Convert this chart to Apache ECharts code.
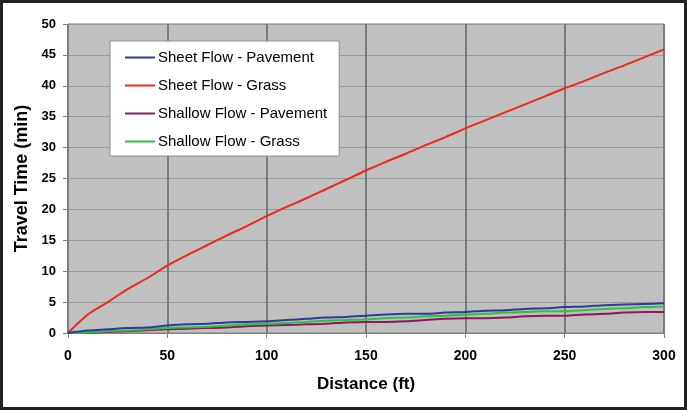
<!DOCTYPE html>
<html>
<head>
<meta charset="utf-8">
<script src="https://cdn.jsdelivr.net/npm/echarts@6/dist/echarts.min.js"></script>
<style>
  html, body { margin: 0; padding: 0; background: #fff; }
  #chart { width: 687px; height: 410px; box-sizing: border-box; border: 3px solid #222; }
</style>
</head>
<body>
<div id="chart"></div>
<script>
// distance (ft)
const distance = [0, 10, 20, 30, 40, 50, 60, 70, 80, 90, 100, 110, 120, 130, 140, 150,
    160, 170, 180, 190, 200, 210, 220, 230, 240, 250, 260, 270, 280, 290, 300];

// travel time (min)
const sheetPavement = [0, 0.4, 0.6, 0.8, 0.9, 1.2, 1.4, 1.5, 1.7, 1.8, 1.9, 2.1, 2.3, 2.5, 2.6, 2.8,
    3.0, 3.1, 3.1, 3.3, 3.4, 3.6, 3.7, 3.9, 4.0, 4.2, 4.3, 4.5, 4.6, 4.7, 4.8];
const sheetGrass = [0, 3.0, 5.0, 7.1, 8.9, 10.9, 12.6, 14.2, 15.8, 17.3, 18.9, 20.4, 21.8, 23.3, 24.8, 26.3,
    27.7, 29.0, 30.4, 31.7, 33.1, 34.4, 35.7, 37.0, 38.3, 39.6, 40.8, 42.1, 43.3, 44.6, 45.9];
const shallowPavement = [0, 0.05, 0.2, 0.3, 0.45, 0.6, 0.7, 0.8, 0.9, 1.1, 1.2, 1.3, 1.4, 1.5, 1.7, 1.8,
    1.8, 1.9, 2.1, 2.3, 2.4, 2.4, 2.5, 2.7, 2.8, 2.8, 3.0, 3.1, 3.3, 3.4, 3.4];
const shallowGrass = [0, 0.1, 0.3, 0.4, 0.6, 0.8, 0.9, 1.0, 1.2, 1.4, 1.5, 1.6, 1.8, 2.0, 2.1, 2.2,
    2.4, 2.5, 2.7, 2.8, 3.0, 3.1, 3.3, 3.4, 3.5, 3.5, 3.7, 3.9, 4.0, 4.2, 4.3];

const seriesNames = ['Sheet Flow - Pavement', 'Sheet Flow - Grass', 'Shallow Flow - Pavement', 'Shallow Flow - Grass'];
const seriesColors = ['#2a3b9c', '#f02818', '#8c1a5a', '#30c040'];
const seriesData = [sheetPavement, sheetGrass, shallowPavement, shallowGrass];

const chart = echarts.init(document.getElementById('chart'));

const option = {
    backgroundColor: '#fff',
    animation: false,
    grid: {
        left: 65, right: 20, top: 21, bottom: 74,
        show: true,
        backgroundColor: '#c0c0c0',
        borderColor: '#808080',
        borderWidth: 1
    },
    legend: {
        left: 107, top: 38,
        orient: 'vertical',
        backgroundColor: '#fff',
        borderColor: '#909090',
        borderWidth: 1,
        padding: [9, 12, 7, 15],
        itemGap: 13,
        itemWidth: 30,
        itemHeight: 16,
        icon: 'path://M0,7 L30,7 L30,9 L0,9 Z',
        textStyle: { fontFamily: 'Liberation Sans', fontSize: 15, color: '#000', padding: [0, 0, 0, -2] },
        data: seriesNames
    },
    xAxis: {
        type: 'value',
        min: 0, max: 300, interval: 50,
        name: 'Distance (ft)',
        nameLocation: 'middle',
        nameGap: 43,
        nameTextStyle: { fontFamily: 'Liberation Sans', fontWeight: 'bold', fontSize: 17, color: '#000' },
        axisLine: { show: true, lineStyle: { color: '#808080', width: 1 } },
        axisTick: { show: true, length: 5, lineStyle: { color: '#808080' } },
        axisLabel: { margin: 16, fontFamily: 'Liberation Sans', fontWeight: 'bold', fontSize: 14, color: '#000' },
        splitLine: { show: true, lineStyle: { color: '#7a7a7a', width: 2 } }
    },
    yAxis: {
        type: 'value',
        min: 0, max: 50, interval: 5,
        name: 'Travel Time (min)',
        nameLocation: 'middle',
        nameGap: 34,
        nameTextStyle: { fontFamily: 'Liberation Sans', fontWeight: 'bold', fontSize: 18, color: '#000' },
        axisLine: { show: true, lineStyle: { color: '#808080', width: 1 } },
        axisTick: { show: true, length: 5, lineStyle: { color: '#808080' } },
        axisLabel: { margin: 12, fontFamily: 'Liberation Sans', fontWeight: 'bold', fontSize: 13, color: '#000' },
        splitLine: { show: true, lineStyle: { color: '#999', width: 1 } }
    },
    series: seriesNames.map((name, i) => ({
        name: name,
        type: 'line',
        data: distance.map((d, j) => [d, seriesData[i][j]]),
        showSymbol: false,
        smooth: 0.3,
        lineStyle: { color: seriesColors[i], width: 2 },
        itemStyle: { color: seriesColors[i] },
        z: i === 0 ? 5 : 3
    }))
};

chart.setOption(option);
</script>
</body>
</html>
